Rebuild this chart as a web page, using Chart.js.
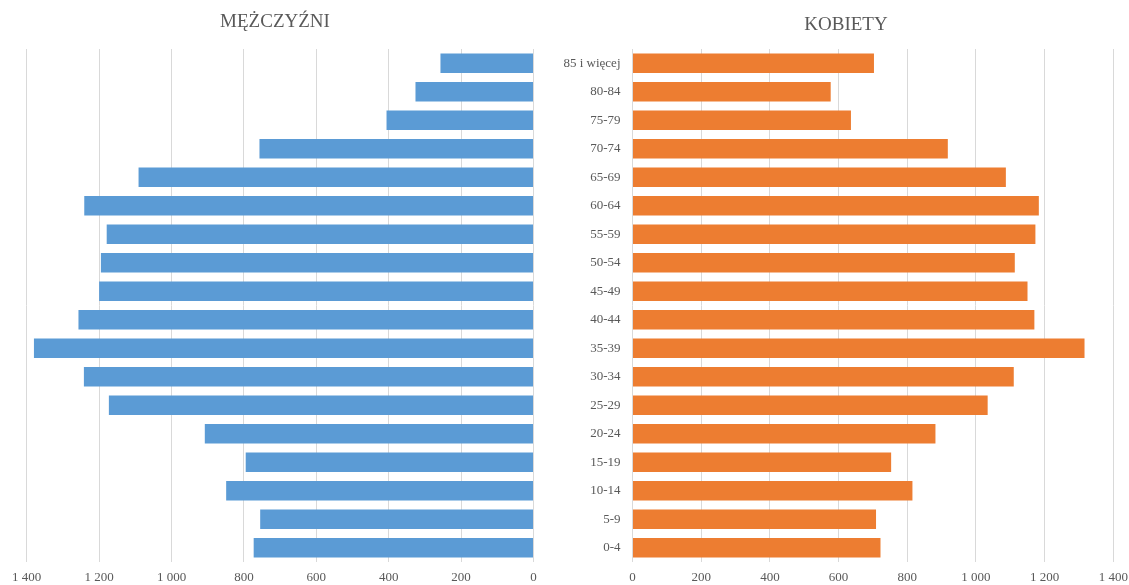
<!DOCTYPE html>
<html>
<head>
<meta charset="utf-8">
<script src="https://cdn.jsdelivr.net/npm/chart.js@4"></script>
<style>
  body { margin: 0; background: #fff; overflow: hidden; }
  .box { position: absolute; top: 0; height: 585px; }
  #left { left: 0; width: 560px; }
  #right { left: 540px; width: 596px; }
</style>
</head>
<body>
<div class="box" id="left"><canvas id="menChart"></canvas></div>
<div class="box" id="right"><canvas id="womenChart"></canvas></div>
<script>
// age groups, bottom to top
const ageGroups = ["0-4", "5-9", "10-14", "15-19", "20-24", "25-29", "30-34", "35-39", "40-44",
  "45-49", "50-54", "55-59", "60-64", "65-69", "70-74", "75-79", "80-84", "85 i więcej"];
const men = [773, 755, 849, 795, 908, 1173, 1242, 1380, 1257, 1200, 1195, 1179, 1241, 1091, 757, 406, 326, 257];
const women = [722, 709, 815, 753, 882, 1034, 1110, 1316, 1170, 1150, 1113, 1173, 1183, 1087, 918, 636, 577, 703];
const axisTicks = [0, 200, 400, 600, 800, 1000, 1200, 1400];

const grey = "#595959";
const serif = "'Liberation Serif', 'Times New Roman', serif";

function fmt(v) {
  return String(v).replace(/\B(?=(\d{3})+(?!\d))/g, " ");
}

// panel heading drawn above the plot
const panelTitle = {
  id: "panelTitle",
  afterDraw(chart, args, opts) {
    const ctx = chart.ctx;
    ctx.save();
    ctx.fillStyle = grey;
    ctx.font = "19px " + serif;
    ctx.textAlign = "center";
    ctx.textBaseline = "middle";
    ctx.fillText(opts.text, opts.x, opts.y);
    ctx.restore();
  }
};

function makeConfig(title, values, color, side) {
  const isLeft = side === "left";
  return {
    type: "bar",
    data: {
      labels: ageGroups,
      datasets: [{
        label: title,
        data: values,
        backgroundColor: color,
        borderWidth: 0,
        categoryPercentage: 1,
        barPercentage: 0.68
      }]
    },
    options: {
      indexAxis: "y",
      responsive: true,
      maintainAspectRatio: false,
      animation: false,
      layout: isLeft
        ? { padding: { left: 26.7, right: 26.5, top: 49, bottom: 0 } }
        : { padding: { left: 0, right: 16.3, top: 49, bottom: 0 } },
      plugins: {
        legend: { display: false },
        tooltip: { enabled: false },
        panelTitle: isLeft ? { text: title, x: 275, y: 22 } : { text: title, x: 306, y: 25 }
      },
      scales: {
        x: {
          min: 0,
          max: 1400,
          reverse: isLeft,
          afterBuildTicks: (scale) => { scale.ticks = axisTicks.map(v => ({ value: v })); },
          afterFit: (scale) => { scale.height = 23; },
          grid: { color: "#D9D9D9", lineWidth: 1, drawTicks: false },
          border: { display: false },
          ticks: {
            padding: 8,
            color: grey,
            maxRotation: 0,
            font: { family: serif, size: 13 },
            callback: (v) => fmt(v)
          }
        },
        y: {
          reverse: true,
          display: !isLeft,
          grid: { display: false, drawTicks: false },
          border: { display: false },
          afterFit: (scale) => { if (!isLeft) scale.width = 92.5; },
          ticks: {
            padding: 12,
            color: grey,
            font: { family: serif, size: 13 }
          }
        }
      }
    },
    plugins: [panelTitle]
  };
}

new Chart(document.getElementById("menChart"), makeConfig("MĘŻCZYŹNI", men, "#5B9BD5", "left"));
new Chart(document.getElementById("womenChart"), makeConfig("KOBIETY", women, "#ED7D31", "right"));
</script>
</body>
</html>
